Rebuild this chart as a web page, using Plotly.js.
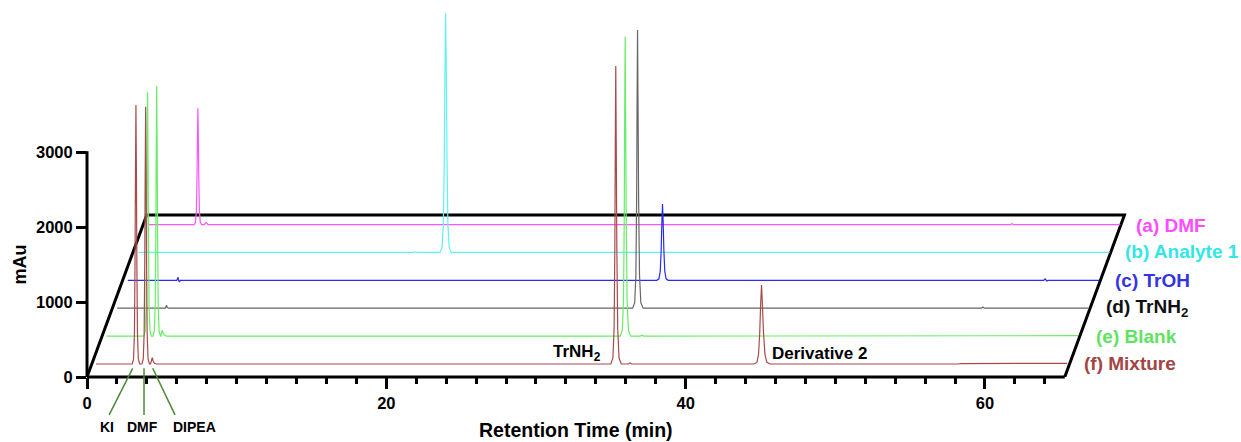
<!DOCTYPE html>
<html>
<head>
<meta charset="utf-8">
<script src="https://cdn.plot.ly/plotly-3.0.1.min.js"></script>
<style>
html,body{margin:0;padding:0;background:#ffffff;}
#chart{width:1241px;height:442px;}
</style>
</head>
<body>
<div id="chart"></div>
<script>
// ---------- data (retention time in min, absorbance in mAu, each trace on its own baseline) ----------
const seriesLabels = ['(a) DMF', '(b) Analyte 1', '(c) TrOH', '(d) TrNH<sub>2</sub>', '(e) Blank', '(f) Mixture'];

const dmfTime = [0, 3.02, 3.11, 3.17, 3.21, 3.24, 3.27, 3.30, 3.33, 3.37, 3.43, 3.52, 3.70, 3.81, 3.95, 57.56, 57.66, 57.76, 64.9];
const dmfAbs  = [0, 0, 31, 187, 622, 1166, 1555, 1166, 622, 187, 31, 0, 0, 25, 0, 0, 10, 0, 0];

const analyteTime = [0, 18.4, 18.5, 18.6, 20.15, 20.29, 20.38, 20.44, 20.485, 20.53, 20.575, 20.62, 20.68, 20.77, 20.91, 64.9];
const analyteAbs  = [0, 0, 10, 0, 0, 64, 384, 1279, 2398, 3197, 2398, 1279, 384, 64, 0, 0];

const trohTime = [0, 3.28, 3.33, 3.36, 3.40, 3.45, 3.52, 35.35, 35.49, 35.58, 35.64, 35.685, 35.73, 35.775, 35.82, 35.88, 35.97, 36.11, 61.2, 61.3, 61.4, 61.5, 64.9];
const trohAbs  = [0, 0, 30, 35, 0, -22, 0, 0, 20, 123, 408, 766, 1021, 766, 408, 123, 20, 0, 0, 18, -8, 0, 0];

const trnh2Time = [0, 3.22, 3.27, 3.30, 3.34, 3.42, 34.44, 34.58, 34.66, 34.71, 34.74, 34.77, 34.80, 34.84, 34.90, 34.99, 35.14, 57.74, 57.84, 57.94, 64.9];
const trnh2Abs  = [0, 0, 25, 40, 10, 0, 0, 74, 447, 1488, 2791, 3721, 2791, 1488, 447, 74, 0, 0, 15, 0, 0];

const blankTime = [0, 2.49, 2.58, 2.64, 2.68, 2.71, 2.74, 2.77, 2.80, 2.84, 2.90, 2.99,
  3.10, 3.19, 3.25, 3.29, 3.32, 3.35, 3.38, 3.41, 3.45, 3.51, 3.60,
  3.62, 3.67, 3.72, 3.78, 3.86, 4.00,
  34.32, 34.46, 34.54, 34.59, 34.62, 34.65, 34.68, 34.72, 34.78, 34.87, 35.02,
  35.67, 35.77, 35.89, 64.9];
const blankAbs = [0, 0, 65, 391, 1304, 2446, 3261, 2446, 1304, 391, 65, 0,
  0, 67, 402, 1338, 2510, 3346, 2510, 1338, 402, 67, 0,
  0, 38, 80, 38, 10, 0,
  0, 80, 480, 1602, 3003, 4004, 3003, 1602, 480, 80, 0,
  0, 12, 0, 5];

const mixtureTime = [0, 2.42, 2.51, 2.57, 2.61, 2.64, 2.67, 2.70, 2.73, 2.77, 2.83, 2.92,
  3.07, 3.16, 3.22, 3.26, 3.29, 3.32, 3.35, 3.38, 3.42, 3.48, 3.57,
  3.64, 3.70, 3.76, 3.82, 3.90, 4.05,
  34.40, 34.54, 34.62, 34.67, 34.70, 34.73, 34.76, 34.80, 34.86, 34.95, 35.10,
  35.58, 35.68, 35.80,
  43.95, 44.16, 44.27, 44.35, 44.41, 44.47, 44.53, 44.60, 44.70, 44.82, 45.05,
  57.60, 57.80, 64.90];
const mixtureAbs = [0, 0, 69, 416, 1386, 2598, 3464, 2598, 1386, 416, 69, 0,
  0, 69, 413, 1376, 2581, 3441, 2581, 1376, 413, 69, 0,
  0, 40, 85, 40, 10, 0,
  0, 80, 478, 1594, 2989, 3985, 2989, 1594, 478, 80, 0,
  0, 15, 0,
  0, 21, 127, 422, 792, 1056, 792, 422, 127, 21, 0,
  0, 6, 9];

const xTickVals = [0, 20, 40, 60];
const xMinorTickVals = [2,4,6,8,10,12,14,16,18,22,24,26,28,30,32,34,36,38,42,44,46,48,50,52,54,56,58,62,64];
const yTickVals = [0, 1000, 2000, 3000];

// ---------- styling / layout constants ----------
const lineColors  = ['#ff55ff', '#5ff2f2', '#2b2bef', '#666666', '#66ee66', '#a94a4a'];
const labelColors = ['#ff4cff', '#33e6e6', '#3434e0', '#111111', '#5fe35f', '#a24545'];
const X_BASE = 0.6, X_STEP = 0.708;   // waterfall shift per trace (min)
const Y_BASE = 174, Y_STEP = 373;     // waterfall shift per trace (mAu)
const X_AXIS_END = 65.33, Y_AXIS_END = 3020;
const FRAME_DX = 3.99, FRAME_DY = 2167;

const dataSets = [
  [dmfTime, dmfAbs], [analyteTime, analyteAbs], [trohTime, trohAbs],
  [trnh2Time, trnh2Abs], [blankTime, blankAbs], [mixtureTime, mixtureAbs]
];

const FONT = 'Liberation Sans, Arial, Helvetica, sans-serif';

const traces = dataSets.map(function (d, i) {
  const k = 5 - i; // depth index: mixture in front (0), DMF at back (5)
  const dx = X_BASE + k * X_STEP, dy = Y_BASE + k * Y_STEP;
  return {
    type: 'scatter', mode: 'lines',
    x: d[0].map(function (t) { return t + dx; }),
    y: d[1].map(function (v) { return v + dy; }),
    line: {color: lineColors[i], width: 1.2, simplify: false},
    hoverinfo: 'skip', showlegend: false
  };
});

const labelPaperX = [1.0040, 0.9934, 0.9839, 0.9746, 0.9656, 0.9544];
const labelY = [2023, 1676, 1297, 925, 548, 183];

const annotations = [];
seriesLabels.forEach(function (s, i) {
  annotations.push({
    xref: 'paper', yref: 'y', x: labelPaperX[i], y: labelY[i],
    xanchor: 'left', yanchor: 'middle', showarrow: false,
    text: s, font: {family: FONT, size: 19, color: labelColors[i], weight: 'bold'}
  });
});
annotations.push(
  {xref: 'x', yref: 'y', x: 34.48, y: 321, xanchor: 'right', yanchor: 'middle', showarrow: false,
   text: 'TrNH<sub>2</sub>', font: {family: FONT, size: 17, color: '#000', weight: 'bold'}},
  {xref: 'x', yref: 'y', x: 45.63, y: 321, xanchor: 'left', yanchor: 'middle', showarrow: false,
   text: 'Derivative 2', font: {family: FONT, size: 17, color: '#000', weight: 'bold'}},
  {xref: 'x', yref: 'paper', x: 1.34, y: -0.134, xanchor: 'center', yanchor: 'middle', showarrow: false,
   text: 'KI', font: {family: FONT, size: 14, color: '#000', weight: 'bold'}},
  {xref: 'x', yref: 'paper', x: 3.74, y: -0.134, xanchor: 'center', yanchor: 'middle', showarrow: false,
   text: 'DMF', font: {family: FONT, size: 14, color: '#000', weight: 'bold'}},
  {xref: 'x', yref: 'paper', x: 7.15, y: -0.134, xanchor: 'center', yanchor: 'middle', showarrow: false,
   text: 'DIPEA', font: {family: FONT, size: 14, color: '#000', weight: 'bold'}},
  {xref: 'x', yref: 'paper', x: X_AXIS_END / 2, y: -0.1435, xanchor: 'center', yanchor: 'middle', showarrow: false,
   text: 'Retention Time (min)', font: {family: FONT, size: 19.5, color: '#000', weight: 'bold'}},
  {xref: 'paper', yref: 'y', x: -0.0638, y: 1510, xanchor: 'center', yanchor: 'middle', showarrow: false,
   textangle: -90, text: 'mAu', font: {family: FONT, size: 18, color: '#000', weight: 'bold'}}
);

const pointerColor = '#4a8a36';
const shapes = [
  {type: 'path', xref: 'x', yref: 'y', layer: 'below',
   path: 'M 0,0 L ' + FRAME_DX + ',' + FRAME_DY + ' L ' + (X_AXIS_END + FRAME_DX) + ',' + FRAME_DY + ' L ' + X_AXIS_END + ',0',
   line: {color: '#000', width: 3}},
  {type: 'line', xref: 'paper', yref: 'y', x0: 0, x1: 0, y0: 0, y1: Y_AXIS_END, layer: 'below',
   line: {color: '#000', width: 3}},
  {type: 'line', xref: 'x', yref: 'paper', x0: 0, x1: X_AXIS_END, y0: 0, y1: 0, layer: 'below',
   line: {color: '#000', width: 3}},
  {type: 'line', xref: 'x', yref: 'paper', x0: 1.48, y0: -0.102, x1: 3.05, y1: 0.0234, line: {color: pointerColor, width: 1.5}},
  {type: 'line', xref: 'x', yref: 'paper', x0: 3.81, y0: -0.102, x1: 3.81, y1: 0.0234, line: {color: pointerColor, width: 1.5}},
  {type: 'line', xref: 'x', yref: 'paper', x0: 5.88, y0: -0.102, x1: 4.39, y1: 0.0234, line: {color: pointerColor, width: 1.5}}
];

const layout = {
  width: 1241, height: 442,
  margin: {l: 87, r: 111, t: 5, b: 65, pad: 0},
  paper_bgcolor: '#ffffff', plot_bgcolor: 'rgba(0,0,0,0)',
  showlegend: false,
  font: {family: FONT, color: '#000'},
  xaxis: {
    range: [0, 69.69], showline: false, zeroline: false, showgrid: false,
    tickmode: 'array', tickvals: xTickVals, ticktext: xTickVals.map(String),
    ticks: 'outside', ticklen: 11, tickwidth: 3, tickcolor: '#000',
    tickfont: {family: FONT, size: 16.5, color: '#000', weight: 'bold'},
    minor: {tickmode: 'array', tickvals: xMinorTickVals, ticks: 'outside', ticklen: 6, tickwidth: 3, tickcolor: '#000', showgrid: false},
    fixedrange: true
  },
  yaxis: {
    range: [0, 4975], showline: false, zeroline: false, showgrid: false,
    tickmode: 'array', tickvals: yTickVals, ticktext: yTickVals.map(String),
    ticks: 'outside', ticklen: 10, tickwidth: 3, tickcolor: '#000',
    tickfont: {family: FONT, size: 16.5, color: '#000', weight: 'bold'},
    fixedrange: true
  },
  annotations: annotations,
  shapes: shapes
};

Plotly.newPlot('chart', traces, layout, {staticPlot: true, displayModeBar: false});
</script>
</body>
</html>
